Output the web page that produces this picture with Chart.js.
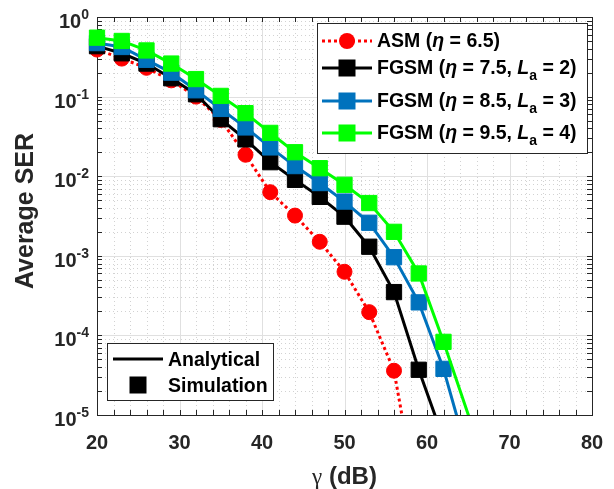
<!DOCTYPE html>
<html>
<head>
<meta charset="utf-8">
<script src="https://cdn.jsdelivr.net/npm/chart.js@4/dist/chart.umd.min.js"></script>
<style>
html,body{margin:0;padding:0;background:#fff;}
canvas{display:block;}
</style>
</head>
<body>
<canvas id="serChart" width="614" height="489"></canvas>
<script>
// SNR values where the simulation markers sit (dB)
const gammaSim = [20,23,26,29,32,35,38,41,44,47,50,53,56,59,62];

// average SER, one array per scheme
const asmSER   = [0.39,0.30,0.23,0.16,0.10,0.051,0.0186,0.0063,0.0032,0.0015,6.3e-4,1.96e-4,3.6e-5];
const fgsm2SER = [0.43,0.35,0.26,0.17,0.107,0.052,0.029,0.015,0.009,0.0055,0.0031,0.0013,3.5e-4,3.7e-5];
const fgsm3SER = [0.47,0.42,0.29,0.20,0.12,0.07,0.041,0.023,0.0134,0.0082,0.0048,0.0026,9.6e-4,2.6e-4,3.8e-5];
const fgsm4SER = [0.55,0.50,0.38,0.26,0.166,0.102,0.062,0.035,0.020,0.0126,0.0078,0.0046,0.0020,6.0e-4,8.3e-5];

// last analytical point of each curve (below the axis floor) [gamma, SER]
const asmTail   = [58, 2.5e-6];
const fgsm2Tail = [62, 5e-6];
const fgsm3Tail = [65, 3e-6];
const fgsm4Tail = [66, 5e-6];

// legend parameters
const etaVals = [6.5, 7.5, 8.5, 9.5];
const laVals  = [null, 2, 3, 4];

// axis ticks
const xTicks = [20,30,40,50,60,70,80];
const xMinorStep = 2;
const yExps = [0,-1,-2,-3,-4,-5];

const colors = ['#ff0000', '#000000', '#0072bd', '#00ff00'];
const FONT = "'Liberation Sans', Arial, Helvetica, sans-serif";

function curve(ser, tail, color, style, radius, dash, order) {
  const pts = ser.map((v, i) => ({x: gammaSim[i], y: v}));
  pts.push({x: tail[0], y: tail[1]});
  return {
    data: pts,
    borderColor: color,
    backgroundColor: color,
    borderWidth: 3,
    borderDash: dash,
    pointStyle: style,
    pointRadius: pts.map((p, i) => i < ser.length ? radius : 0),
    pointHoverRadius: 0,
    pointBorderWidth: 1,
    pointBorderColor: color,
    pointBackgroundColor: color,
    tension: 0,
    order: order,
    clip: {left: false, top: false, right: false, bottom: 0}
  };
}

function seg(ctx, x1, y1, x2, y2) {
  ctx.beginPath(); ctx.moveTo(x1, y1); ctx.lineTo(x2, y2); ctx.stroke();
}

// grid, box, ticks and labels (drawn under the curves)
const axesPlugin = {
  id: 'axesPlugin',
  beforeDatasetsDraw(chart) {
    const ctx = chart.ctx, a = chart.chartArea;
    const xs = chart.scales.x, ys = chart.scales.y;
    const xMinor = [], yMinor = [];
    for (let g = xTicks[0]; g <= xTicks[xTicks.length - 1]; g += xMinorStep) if (!xTicks.includes(g)) xMinor.push(g);
    for (let e = -5; e < 0; e++) for (let m = 2; m <= 9; m++) yMinor.push(m * Math.pow(10, e));
    const px = v => Math.round(xs.getPixelForValue(v)) + 0.5;
    const py = v => Math.round(ys.getPixelForValue(v)) + 0.5;

    ctx.save();
    ctx.lineWidth = 1;
    // minor grid, dotted
    ctx.strokeStyle = '#d2d2d2';
    ctx.setLineDash([1, 3]);
    xMinor.forEach(g => seg(ctx, px(g), a.top, px(g), a.bottom));
    yMinor.forEach(v => seg(ctx, a.left, py(v), a.right, py(v)));
    // major grid
    ctx.setLineDash([]);
    ctx.strokeStyle = '#e0e0e0';
    xTicks.forEach(g => seg(ctx, px(g), a.top, px(g), a.bottom));
    yExps.forEach(e => seg(ctx, a.left, py(Math.pow(10, e)), a.right, py(Math.pow(10, e))));

    // ticks, inside on all four sides
    ctx.strokeStyle = '#262626';
    const tl = 5;
    xTicks.concat(xMinor).forEach(g => {
      seg(ctx, px(g), a.bottom, px(g), a.bottom - tl);
      seg(ctx, px(g), a.top, px(g), a.top + tl);
    });
    yExps.map(e => Math.pow(10, e)).concat(yMinor).forEach(v => {
      seg(ctx, a.left, py(v), a.left + tl, py(v));
      seg(ctx, a.right, py(v), a.right - tl, py(v));
    });
    // box
    ctx.strokeRect(Math.round(a.left) + 0.5, Math.round(a.top) + 0.5,
                   Math.round(a.right - a.left), Math.round(a.bottom - a.top));

    // tick labels
    ctx.fillStyle = '#262626';
    ctx.font = 'bold 20px ' + FONT;
    ctx.textAlign = 'center';
    ctx.textBaseline = 'alphabetic';
    xTicks.forEach(g => ctx.fillText(String(g), xs.getPixelForValue(g), a.bottom + 34));

    ctx.textAlign = 'left';
    yExps.forEach(e => {
      const y = ys.getPixelForValue(Math.pow(10, e));
      const sup = e === 0 ? '0' : '-' + (-e);
      ctx.font = 'bold 14px ' + FONT;
      const ws = ctx.measureText(sup).width;
      ctx.font = 'bold 20px ' + FONT;
      const wm = ctx.measureText('10').width;
      const right = a.left - 8;
      ctx.fillText('10', right - ws - wm, y + 11);
      ctx.font = 'bold 14px ' + FONT;
      ctx.fillText(sup, right - ws, y + 2);
    });

    // axis titles
    ctx.fillStyle = '#262626';
    ctx.save();
    ctx.translate(26, (a.top + a.bottom) / 2 - 5);
    ctx.rotate(-Math.PI / 2);
    ctx.textAlign = 'center';
    ctx.textBaseline = 'middle';
    ctx.font = 'bold 25px ' + FONT;
    ctx.fillText('Average SER', 0, 0);
    ctx.restore();

    const xTitle = [
      {t: 'γ', f: '23px "Liberation Serif", serif'},
      {t: ' (dB)', f: 'bold 24px ' + FONT}
    ];
    let tw = 0;
    xTitle.forEach(s => { ctx.font = s.f; tw += ctx.measureText(s.t).width; });
    let cx = (a.left + a.right) / 2 - tw / 2;
    xTitle.forEach(s => { ctx.font = s.f; ctx.textAlign = 'left'; ctx.fillText(s.t, cx, 484); cx += ctx.measureText(s.t).width; });
    ctx.restore();
  }
};

function richText(ctx, parts, x, y) {
  parts.forEach(p => {
    ctx.font = p.f;
    ctx.fillText(p.t, x, y + (p.dy || 0));
    x += ctx.measureText(p.t).width;
  });
}

function marker(ctx, style, color, x, y) {
  ctx.fillStyle = color;
  if (style === 'circle') {
    ctx.beginPath(); ctx.arc(x, y, 8, 0, Math.PI * 2); ctx.fill();
  } else {
    ctx.fillRect(x - 8.5, y - 8.5, 17, 17);
  }
}

// the two legends, drawn on top
const legendPlugin = {
  id: 'legendPlugin',
  afterDatasetsDraw(chart) {
    const ctx = chart.ctx;
    ctx.save();
    // main legend
    ctx.fillStyle = '#ffffff';
    ctx.fillRect(317, 23, 270, 130);
    ctx.strokeStyle = '#262626';
    ctx.lineWidth = 1;
    ctx.strokeRect(317.5, 23.5, 270, 130);
    const rows = [41, 68, 101, 133];
    const B = 'bold 19.5px ' + FONT, BI = 'italic bold 19.5px ' + FONT, S = 'bold 14px ' + FONT;
    rows.forEach((ry, i) => {
      ctx.strokeStyle = colors[i];
      ctx.lineWidth = 3;
      ctx.setLineDash(i === 0 ? [3, 3] : []);
      seg(ctx, 322, ry, 372, ry);
      ctx.setLineDash([]);
      marker(ctx, i === 0 ? 'circle' : 'rect', colors[i], 347, ry);
      ctx.fillStyle = '#000000';
      let parts;
      if (laVals[i] === null) {
        parts = [{t: 'ASM (', f: B}, {t: 'η', f: BI}, {t: ' = ' + etaVals[i] + ')', f: B}];
      } else {
        parts = [{t: 'FGSM (', f: B}, {t: 'η', f: BI}, {t: ' = ' + etaVals[i] + ', ', f: B},
                 {t: 'L', f: BI}, {t: 'a', f: S, dy: 6}, {t: ' = ' + laVals[i] + ')', f: B}];
      }
      richText(ctx, parts, 377, ry + 6);
    });

    // analytical / simulation legend
    ctx.fillStyle = '#ffffff';
    ctx.fillRect(107, 343, 166, 57);
    ctx.strokeStyle = '#262626';
    ctx.lineWidth = 1;
    ctx.strokeRect(107.5, 343.5, 166, 57);
    ctx.strokeStyle = '#000000';
    ctx.lineWidth = 3;
    seg(ctx, 113, 359, 163, 359);
    marker(ctx, 'rect', '#000000', 138, 385);
    ctx.fillStyle = '#000000';
    ctx.font = B;
    ctx.textAlign = 'left';
    ctx.fillText('Analytical', 168, 366);
    ctx.fillText('Simulation', 168, 392);
    ctx.restore();
  }
};

new Chart(document.getElementById('serChart'), {
  type: 'line',
  data: {
    datasets: [
      curve(fgsm4SER, fgsm4Tail, colors[3], 'rect', 10.8, [], 1),
      curve(fgsm3SER, fgsm3Tail, colors[2], 'rect', 10.8, [], 2),
      curve(fgsm2SER, fgsm2Tail, colors[1], 'rect', 10.8, [], 3),
      curve(asmSER, asmTail, colors[0], 'circle', 7.5, [3, 3], 4)
    ]
  },
  options: {
    responsive: false,
    devicePixelRatio: 1,
    animation: false,
    events: [],
    layout: {padding: {left: 97, right: 22, top: 17, bottom: 74}},
    scales: {
      x: {type: 'linear', min: 20, max: 80, display: false},
      y: {type: 'logarithmic', min: 1e-5, max: 1, display: false}
    },
    plugins: {legend: {display: false}, tooltip: {enabled: false}}
  },
  plugins: [axesPlugin, legendPlugin]
});
</script>
</body>
</html>
